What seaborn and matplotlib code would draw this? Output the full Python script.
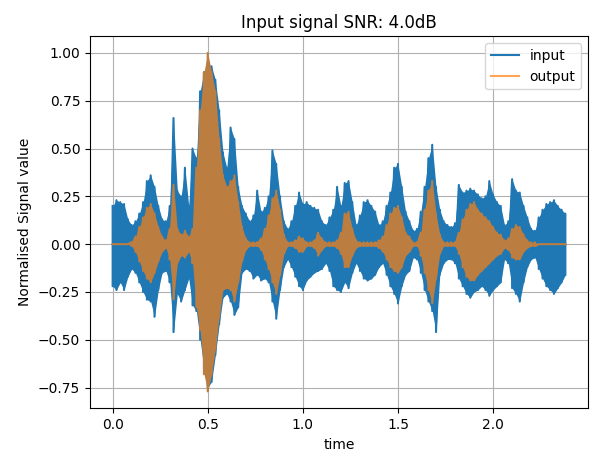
import matplotlib
matplotlib.use("Agg")
import matplotlib.pyplot as plt
import matplotlib.colors as mcolors
import numpy as np
import pandas as pd
import seaborn as sns

# envelope samples (every 0.02 s)
time = [0.00, 0.02, 0.04, 0.06, 0.08, 0.10, 0.12, 0.14, 0.16, 0.18,
        0.20, 0.22, 0.24, 0.26, 0.28, 0.30, 0.32, 0.34, 0.36, 0.38,
        0.40, 0.42, 0.44, 0.46, 0.48, 0.50, 0.52, 0.54, 0.56, 0.58,
        0.60, 0.62, 0.64, 0.66, 0.68, 0.70, 0.72, 0.74, 0.76, 0.78,
        0.80, 0.82, 0.84, 0.86, 0.88, 0.90, 0.92, 0.94, 0.96, 0.98,
        1.00, 1.02, 1.04, 1.06, 1.08, 1.10, 1.12, 1.14, 1.16, 1.18,
        1.20, 1.22, 1.24, 1.26, 1.28, 1.30, 1.32, 1.34, 1.36, 1.38,
        1.40, 1.42, 1.44, 1.46, 1.48, 1.50, 1.52, 1.54, 1.56, 1.58,
        1.60, 1.62, 1.64, 1.66, 1.68, 1.70, 1.72, 1.74, 1.76, 1.78,
        1.80, 1.82, 1.84, 1.86, 1.88, 1.90, 1.92, 1.94, 1.96, 1.98,
        2.00, 2.02, 2.04, 2.06, 2.08, 2.10, 2.12, 2.14, 2.16, 2.18,
        2.20, 2.22, 2.24, 2.26, 2.28, 2.30, 2.32, 2.34, 2.36, 2.38]

input_hi = [0.20, 0.23, 0.22, 0.21, 0.13, 0.10, 0.12, 0.16, 0.22, 0.33,
            0.36, 0.30, 0.20, 0.13, 0.12, 0.20, 0.66, 0.28, 0.25, 0.40,
            0.20, 0.50, 0.45, 0.80, 0.90, 0.95, 0.93, 0.86, 0.70, 0.48,
            0.40, 0.61, 0.55, 0.30, 0.20, 0.16, 0.12, 0.15, 0.28, 0.17,
            0.19, 0.25, 0.49, 0.42, 0.25, 0.12, 0.08, 0.12, 0.20, 0.27,
            0.21, 0.22, 0.20, 0.19, 0.18, 0.12, 0.10, 0.14, 0.18, 0.30,
            0.20, 0.32, 0.33, 0.22, 0.10, 0.15, 0.22, 0.23, 0.20, 0.17,
            0.10, 0.12, 0.20, 0.27, 0.40, 0.42, 0.30, 0.17, 0.12, 0.07,
            0.08, 0.17, 0.30, 0.45, 0.52, 0.30, 0.18, 0.12, 0.10, 0.09,
            0.11, 0.31, 0.27, 0.28, 0.29, 0.28, 0.26, 0.24, 0.25, 0.33,
            0.26, 0.22, 0.20, 0.10, 0.12, 0.34, 0.28, 0.27, 0.20, 0.14,
            0.08, 0.07, 0.14, 0.18, 0.21, 0.22, 0.23, 0.20, 0.18, 0.16]

input_lo = [-0.22, -0.24, -0.20, -0.24, -0.17, -0.13, -0.15, -0.20, -0.25, -0.29,
            -0.30, -0.38, -0.24, -0.15, -0.14, -0.20, -0.46, -0.26, -0.30, -0.24,
            -0.18, -0.32, -0.35, -0.50, -0.65, -0.75, -0.72, -0.58, -0.42, -0.28,
            -0.26, -0.30, -0.37, -0.33, -0.15, -0.13, -0.14, -0.18, -0.16, -0.19,
            -0.18, -0.20, -0.30, -0.39, -0.24, -0.12, -0.08, -0.12, -0.17, -0.22,
            -0.24, -0.19, -0.17, -0.15, -0.14, -0.13, -0.10, -0.14, -0.22, -0.24,
            -0.25, -0.20, -0.23, -0.15, -0.10, -0.14, -0.18, -0.19, -0.18, -0.16,
            -0.12, -0.10, -0.16, -0.22, -0.26, -0.31, -0.22, -0.16, -0.14, -0.07,
            -0.08, -0.15, -0.24, -0.30, -0.35, -0.46, -0.16, -0.10, -0.08, -0.08,
            -0.10, -0.18, -0.22, -0.26, -0.28, -0.25, -0.24, -0.22, -0.24, -0.27,
            -0.24, -0.22, -0.20, -0.08, -0.10, -0.23, -0.26, -0.30, -0.20, -0.12,
            -0.08, -0.07, -0.13, -0.18, -0.22, -0.24, -0.26, -0.23, -0.20, -0.16]

output_hi = [0.00, 0.00, 0.00, 0.00, 0.00, 0.01, 0.04, 0.09, 0.14, 0.19,
             0.21, 0.16, 0.09, 0.04, 0.02, 0.08, 0.31, 0.08, 0.05, 0.07,
             0.04, 0.08, 0.40, 0.70, 0.90, 1.00, 0.90, 0.80, 0.55, 0.36,
             0.30, 0.33, 0.36, 0.22, 0.09, 0.03, 0.01, 0.01, 0.01, 0.03,
             0.08, 0.15, 0.24, 0.28, 0.18, 0.05, 0.01, 0.01, 0.02, 0.04,
             0.03, 0.01, 0.01, 0.02, 0.06, 0.03, 0.01, 0.01, 0.01, 0.02,
             0.06, 0.16, 0.17, 0.08, 0.02, 0.01, 0.01, 0.01, 0.01, 0.01,
             0.02, 0.04, 0.10, 0.16, 0.19, 0.20, 0.14, 0.06, 0.04, 0.01,
             0.01, 0.06, 0.18, 0.28, 0.33, 0.16, 0.05, 0.01, 0.01, 0.01,
             0.01, 0.06, 0.13, 0.18, 0.21, 0.22, 0.18, 0.16, 0.14, 0.12,
             0.09, 0.06, 0.05, 0.02, 0.03, 0.08, 0.10, 0.09, 0.05, 0.02,
             0.01, 0.01, 0.00, 0.00, 0.00, 0.00, 0.00, 0.00, 0.00, 0.00]

output_lo = [0.00, 0.00, 0.00, 0.00, 0.00, -0.01, -0.04, -0.09, -0.14, -0.18,
             -0.20, -0.15, -0.09, -0.04, -0.02, -0.08, -0.29, -0.10, -0.06, -0.07,
             -0.04, -0.10, -0.33, -0.45, -0.68, -0.77, -0.68, -0.55, -0.38, -0.24,
             -0.23, -0.24, -0.30, -0.20, -0.09, -0.03, -0.01, -0.01, -0.01, -0.03,
             -0.08, -0.13, -0.20, -0.26, -0.16, -0.05, -0.01, -0.01, -0.02, -0.04,
             -0.04, -0.01, -0.01, -0.02, -0.06, -0.03, -0.01, -0.01, -0.01, -0.02,
             -0.05, -0.12, -0.12, -0.06, -0.02, -0.01, -0.01, -0.01, -0.01, -0.01,
             -0.02, -0.04, -0.08, -0.12, -0.14, -0.15, -0.12, -0.06, -0.04, -0.01,
             -0.01, -0.06, -0.15, -0.24, -0.31, -0.18, -0.05, -0.01, -0.01, -0.01,
             -0.01, -0.05, -0.12, -0.17, -0.19, -0.19, -0.16, -0.14, -0.12, -0.10,
             -0.08, -0.06, -0.05, -0.02, -0.03, -0.07, -0.08, -0.08, -0.04, -0.02,
             -0.01, -0.01, 0.00, 0.00, 0.00, 0.00, 0.00, 0.00, 0.00, 0.00]

series_names = ["input", "output"]

# ---------------------------------------------------------------------------
blue = "#1f77b4"
orange = "#ff7f0e"
alpha_out = 0.7
b = np.array(mcolors.to_rgb(blue))
o = np.array(mcolors.to_rgb(orange))
out_on_blue = tuple(alpha_out * o + (1 - alpha_out) * b)


def zigzag(name, hi, lo):
    rows = []
    k = 0
    for t, h, l in zip(time, hi, lo):
        rows.append((name, t, h, k)); k += 1
        rows.append((name, t, l, k)); k += 1
    return rows


rows = zigzag(series_names[0], input_hi, input_lo) + zigzag(series_names[1], output_hi, output_lo)
df = pd.DataFrame(rows, columns=["signal", "time", "value", "order"])

fig = plt.figure(figsize=(5.98, 4.51), dpi=100)
ax = fig.add_axes([0.1505, 0.0947, 0.9833 - 0.1505, 0.920 - 0.0947])

sns.lineplot(data=df, x="time", y="value", hue="signal", hue_order=series_names,
             palette={"input": blue, "output": out_on_blue},
             sort=False, estimator=None, units="signal", linewidth=1.5, ax=ax)

lines = ax.get_lines()
lines[0].set_zorder(2.1)
lines[1].set_zorder(2.3)

ax.fill_between(time, input_lo, input_hi, color=blue, linewidth=0, zorder=2.0)
ax.fill_between(time, output_lo, output_hi, color=out_on_blue, linewidth=0, zorder=2.2)

ax.set_axisbelow(True)
ax.grid(True, color="#b0b0b0", linewidth=0.8)

ax.set_title("Input signal SNR: 4.0dB", fontsize=12)
ax.set_xlabel("time", fontsize=10)
ax.set_ylabel("Normalised Signal value", fontsize=10)

leg = ax.legend(loc="upper right")
handles = leg.legend_handles
handles[0].set_color(blue)
handles[1].set_color(orange)
handles[1].set_alpha(alpha_out)
leg.set_zorder(5)

fig.savefig("out.png", dpi=100)
